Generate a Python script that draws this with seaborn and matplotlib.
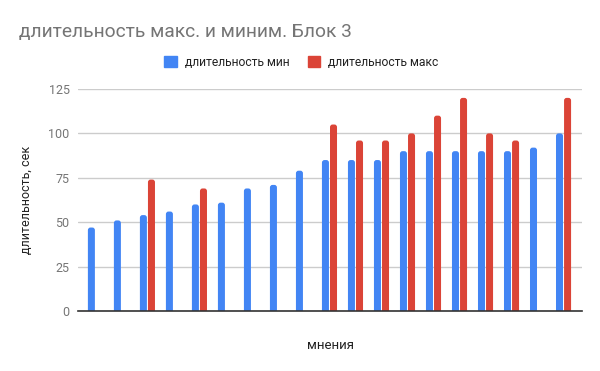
import numpy as np
import pandas as pd
import matplotlib
matplotlib.use("Agg")
import matplotlib.pyplot as plt
from matplotlib.patches import FancyBboxPatch
import seaborn as sns

# Data
categories = [str(i) for i in range(1, 20)]
dur_min = [47, 51, 54, 56, 60, 61, 69, 71, 79, 85, 85, 85, 90, 90, 90, 90, 90, 92, 100]
dur_max = [np.nan, np.nan, 74, np.nan, 69, np.nan, np.nan, np.nan, np.nan,
           105, 96, 96, 100, 110, 120, 100, 96, np.nan, 120]
series_names = ["длительность мин", "длительность макс"]
y_ticks = [0, 25, 50, 75, 100, 125]

BLUE = "#4285F4"
RED = "#DB4437"

sns.set_theme(style="white")
plt.rcParams["font.family"] = ["Roboto", "DejaVu Sans"]

df = pd.concat([
    pd.DataFrame({"cat": categories, "value": dur_min, "series": series_names[0]}),
    pd.DataFrame({"cat": categories, "value": dur_max, "series": series_names[1]}),
]).dropna()

fig = plt.figure(figsize=(6, 3.71), dpi=100)
ax = fig.add_axes([78 / 600, 1 - 311 / 371, 504 / 600, 222 / 371])

sns.barplot(data=df, x="cat", y="value", hue="series", order=categories,
            hue_order=series_names, palette=[BLUE, RED], width=0.62, gap=0.13,
            dodge=True, saturation=1, legend=False, ax=ax)

ax.set_xlim(-0.67, 18.71)
ax.set_ylim(0, 125)

# rounded bar tops, like the Google chart
aspect = (125 / 222) / (19.38 / 504)
for p in list(ax.patches):
    x, y = p.get_x(), p.get_y()
    w, h = p.get_width(), p.get_height()
    if h <= 0:
        continue
    rb = FancyBboxPatch((x, y - 3), w, h + 3,
                        boxstyle="round,pad=0,rounding_size=0.1",
                        mutation_aspect=aspect, facecolor=p.get_facecolor(),
                        edgecolor="none", linewidth=0)
    p.remove()
    ax.add_patch(rb)

ax.set_yticks(y_ticks)
ax.set_yticklabels([str(t) for t in y_ticks], color="#757575", fontsize=9)
ax.set_xticks([])
ax.tick_params(axis="y", length=0, pad=6)
ax.yaxis.grid(True, color="#cccccc", linewidth=1)
ax.set_axisbelow(True)
for side in ["top", "right", "left"]:
    ax.spines[side].set_visible(False)
ax.spines["bottom"].set_color("#333333")
ax.spines["bottom"].set_linewidth(1.2)
ax.spines["bottom"].set_zorder(5)

ax.set_xlabel("мнения", fontsize=9.5, color="#222222", labelpad=20)
ax.set_ylabel("длительность, сек", fontsize=9, color="#222222", labelpad=11)

fig.text(19 / 600, 1 - 32 / 371, "длительность макс. и миним. Блок 3",
         fontsize=13.8, color="#757575", va="center", ha="left")

# Legend at top centre
handles = [plt.Rectangle((0, 0), 1, 1, color=c) for c in (BLUE, RED)]
fig.legend(handles, series_names, loc="center", bbox_to_anchor=(301.5 / 600, 1 - 62 / 371),
           ncol=2, frameon=False, fontsize=8.7, labelcolor="#222222",
           handlelength=1.0, handleheight=1.0, handletextpad=0.7, columnspacing=1.5)

fig.savefig("out.png", dpi=100)
